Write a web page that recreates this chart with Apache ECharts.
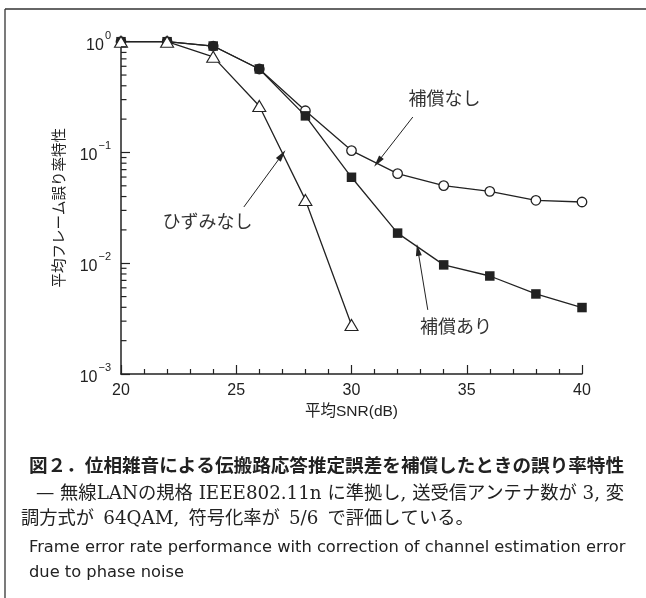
<!DOCTYPE html>
<html>
<head>
<meta charset="utf-8">
<script src="https://cdn.jsdelivr.net/npm/echarts@6/dist/echarts.min.js"></script>
<style>html,body{margin:0;padding:0;background:#fff}#c{width:646px;height:598px}</style>
</head>
<body>
<div id="c"></div>
<script>
// ---- data ----
const snr = [20, 22, 24, 26, 28, 30, 32, 34, 36, 38, 40];
const noComp = [1.0, 1.0, 0.914, 0.567, 0.238, 0.104, 0.0644, 0.0502, 0.0446, 0.0370, 0.0357];   // 補償なし
const withComp = [1.0, 1.0, 0.914, 0.567, 0.214, 0.0597, 0.0187, 0.00966, 0.00767, 0.00528, 0.00398]; // 補償あり
const noDist = [1.0, 1.0, 0.73, 0.263, 0.0373, 0.00277]; // ひずみなし
const xTicks = [20, 25, 30, 35, 40];
const yMinorTicks = [0.002,0.003,0.004,0.005,0.006,0.007,0.008,0.009,
                     0.02,0.03,0.04,0.05,0.06,0.07,0.08,0.09,
                     0.2,0.3,0.4,0.5,0.6,0.7,0.8,0.9];
const labels = ['補償なし', 'ひずみなし', '補償あり'];
const xName = '平均SNR(dB)';
const yName = '平均フレーム誤り率特性';
const caption1 = '図２．位相雑音による伝搬路応答推定誤差を補償したときの誤り率特性';
const caption2 = '— 無線LANの規格 IEEE802.11n に準拠し, 送受信アンテナ数が 3, 変';
const caption3 = '調方式が\u200264QAM,\u2002符号化率が\u20025/6\u2002で評価している。';
const caption4 = 'Frame error rate performance with correction of channel estimation error';
const caption5 = 'due to phase noise';

const SANS = "'Liberation Sans', 'Noto Sans CJK JP', sans-serif";
const SERIF = "'DejaVu Serif', 'Noto Sans CJK JP', serif";
const ENG = "'DejaVu Sans', sans-serif";
const INK = '#222';

function pairs(xs, ys) { return ys.map((v, i) => [xs[i], v]); }

const chart = echarts.init(document.getElementById('c'), null, {renderer: 'canvas'});

const lineStyle = {color: INK, width: 1.3};
const option = {
  backgroundColor: '#fff',
  animation: false,
  grid: {left: 121, right: 64, top: 41.7, bottom: 224, containLabel: false},
  xAxis: {
    type: 'value', min: 20, max: 40, interval: 5,
    name: xName, nameLocation: 'middle', nameGap: 28,
    nameTextStyle: {fontSize: 15.5, color: INK, fontFamily: SANS},
    axisLine: {lineStyle: {color: INK, width: 1.5}},
    axisTick: {inside: true, length: 9, lineStyle: {color: INK, width: 1.2}},
    minorTick: {show: true, splitNumber: 5, length: 5, lineStyle: {color: INK, width: 1.2}},
    splitLine: {show: false},
    axisLabel: {fontSize: 16, color: INK, fontFamily: SANS, margin: 9,
      customValues: xTicks}
  },
  yAxis: {
    type: 'log', logBase: 10, min: 0.001, max: 1,
    name: yName, nameLocation: 'middle', nameGap: 54, nameRotate: 90,
    nameTextStyle: {fontSize: 14.5, color: INK, fontFamily: SANS},
    axisLine: {lineStyle: {color: INK, width: 1.5}},
    axisTick: {inside: true, length: 9, lineStyle: {color: INK, width: 1.2}},
    splitLine: {show: false},
    axisLabel: {
      margin: 10, color: INK, fontFamily: SANS,
      formatter: function (v) {
        const e = Math.round(Math.log10(v));
        return '{b|10}{s|' + (e < 0 ? '\u2212' + (-e) : e) + '}';
      },
      rich: {
        b: {fontSize: 16, lineHeight: 23, verticalAlign: 'bottom', color: INK, fontFamily: SANS},
        s: {fontSize: 11, lineHeight: 11, verticalAlign: 'top', color: INK, fontFamily: SANS, padding: [0, 0, 0, 1]}
      }
    }
  },
  series: [
    {
      type: 'custom', name: 'yminor', silent: true, z: 5,
      data: yMinorTicks.map(v => [20, v]),
      renderItem: function (params, api) {
        const p = api.coord([api.value(0), api.value(1)]);
        return {type: 'line', shape: {x1: p[0], y1: p[1], x2: p[0] + 5.5, y2: p[1]},
                style: {stroke: INK, lineWidth: 1.2}};
      }
    },
    {
      type: 'line', name: labels[0], data: pairs(snr, noComp), z: 2,
      symbol: 'circle', symbolSize: 9.5, showAllSymbol: true,
      lineStyle: lineStyle,
      itemStyle: {color: '#fff', borderColor: INK, borderWidth: 1.3},
      markLine: {
        silent: true, symbol: ['none', 'triangle'], symbolSize: [6, 12],
        lineStyle: {color: INK, width: 1, type: 'solid'}, label: {show: false},
        emphasis: {disabled: true},
        data: [
          [{coord: [32.66, 0.209]}, {coord: [31.14, 0.082]}],
          [{coord: [25.33, 0.0322]}, {coord: [26.98, 0.0948]}],
          [{coord: [33.31, 0.00379]}, {coord: [32.88, 0.0132]}]
        ]
      },
      markPoint: {
        silent: true, symbol: 'circle', symbolSize: 1,
        itemStyle: {color: 'rgba(0,0,0,0)'},
        label: {show: true, position: 'inside', fontSize: 18, color: '#333', fontFamily: SANS,
          formatter: p => p.name},
        data: [
          {name: labels[0], coord: [34.03, 0.298]},
          {name: labels[1], coord: [23.75, 0.0231]},
          {name: labels[2], coord: [34.53, 0.00261]}
        ]
      }
    },
    {
      type: 'line', name: labels[2], data: pairs(snr, withComp), z: 3,
      symbol: 'rect', symbolSize: 9.5, showAllSymbol: true,
      lineStyle: lineStyle,
      itemStyle: {color: INK, borderColor: INK, borderWidth: 0}
    },
    {
      type: 'line', name: labels[1], data: pairs(snr, noDist), z: 4,
      symbol: 'triangle', symbolSize: [13, 11], showAllSymbol: true,
      lineStyle: lineStyle,
      itemStyle: {color: '#fff', borderColor: INK, borderWidth: 1.1}
    }
  ],
  graphic: [
    {type: 'line', shape: {x1: 5, y1: 9, x2: 646, y2: 9}, style: {stroke: '#333', lineWidth: 1.3}, silent: true},
    {type: 'line', shape: {x1: 5, y1: 9, x2: 5, y2: 598}, style: {stroke: '#333', lineWidth: 1.3}, silent: true},
    {type: 'text', x: 29, y: 467, silent: true,
      style: {text: caption1, fontSize: 18.6, fontWeight: 'bold', fontFamily: SANS, fill: INK, verticalAlign: 'middle'}},
    {type: 'text', x: 36, y: 494, silent: true,
      style: {text: caption2, fontSize: 18.3, fontFamily: SERIF, fill: INK, verticalAlign: 'middle'}},
    {type: 'text', x: 21, y: 519, silent: true,
      style: {text: caption3, fontSize: 18.3, fontFamily: SERIF, fill: INK, verticalAlign: 'middle'}},
    {type: 'text', x: 29, y: 548, silent: true,
      style: {text: caption4, fontSize: 16.3, fontFamily: ENG, fill: INK, verticalAlign: 'middle'}},
    {type: 'text', x: 29, y: 573, silent: true,
      style: {text: caption5, fontSize: 16.3, fontFamily: ENG, fill: INK, verticalAlign: 'middle'}}
  ]
};
chart.setOption(option);
</script>
</body>
</html>
